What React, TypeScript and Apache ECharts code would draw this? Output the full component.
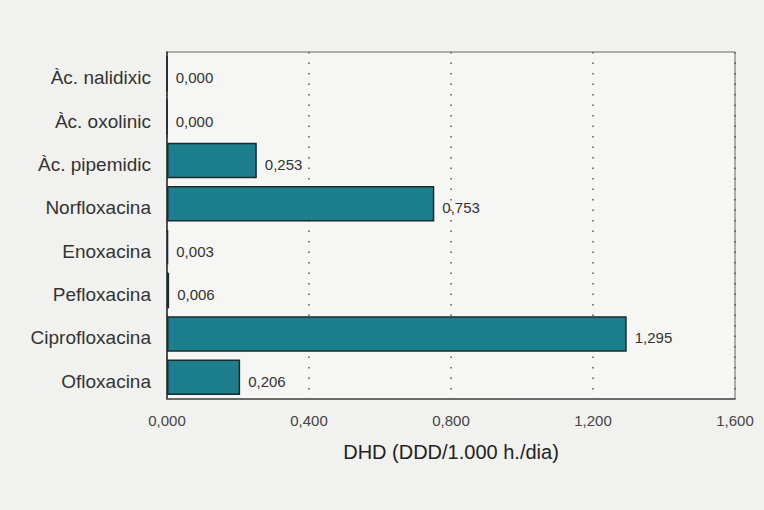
import React, { useEffect, useRef } from "react";
import * as echarts from "echarts";

const categories = [
  "Àc. nalidixic",
  "Àc. oxolinic",
  "Àc. pipemidic",
  "Norfloxacina",
  "Enoxacina",
  "Pefloxacina",
  "Ciprofloxacina",
  "Ofloxacina",
];
const values = [0.0, 0.0, 0.253, 0.753, 0.003, 0.006, 1.295, 0.206];
const xTicks = [0, 0.4, 0.8, 1.2, 1.6];
const axisTitle = "DHD (DDD/1.000 h./dia)";

const fmt = (v: number) => v.toFixed(3).replace(".", ",");

export default function App() {
  const ref = useRef<HTMLDivElement>(null);
  useEffect(() => {
    if (!ref.current) return;
    const chart = echarts.init(ref.current, null, { renderer: "svg" });
    chart.setOption({
      animation: false,
      backgroundColor: "#f1f1ef",
      textStyle: { fontFamily: "Liberation Sans, Arial, sans-serif" },
      grid: {
        left: 167,
        right: 29,
        top: 52,
        bottom: 111,
        show: true,
        borderColor: "#666",
        borderWidth: 1,
        backgroundColor: "#f6f6f4",
      },
      xAxis: {
        type: "value",
        min: xTicks[0],
        max: xTicks[xTicks.length - 1],
        interval: 0.4,
        axisLine: { show: true, lineStyle: { color: "#555", width: 1.5 } },
        axisTick: { show: false },
        axisLabel: {
          color: "#444",
          fontSize: 15,
          margin: 14,
          formatter: (v: number) => fmt(v),
        },
        splitLine: {
          show: true,
          lineStyle: { color: "#555", type: [1.5, 9], width: 1.5 },
        },
        name: axisTitle,
        nameLocation: "middle",
        nameGap: 43,
        nameTextStyle: { color: "#222", fontSize: 20 },
      },
      yAxis: {
        type: "category",
        data: categories,
        inverse: true,
        axisLine: { show: true, lineStyle: { color: "#333", width: 1.5 } },
        axisTick: { show: false },
        axisLabel: {
          color: "#333",
          fontSize: 19,
          margin: 16,
          verticalAlign: "top",
          lineHeight: 8,
        },
        splitLine: { show: false },
      },
      series: [
        {
          type: "bar",
          data: values,
          barCategoryGap: "18%",
          itemStyle: {
            color: "#1d7e8d",
            borderColor: "#1a2b2e",
            borderWidth: 1.5,
          },
          label: {
            show: true,
            position: "right",
            distance: 8,
            offset: [0, 4],
            color: "#333",
            fontSize: 15,
            formatter: (p: any) => fmt(p.value),
          },
        },
      ],
    });
    return () => chart.dispose();
  }, []);
  return (
    <div
      ref={ref}
      style={{ position: "absolute", left: 0, top: 0, width: 764, height: 510 }}
    />
  );
}
